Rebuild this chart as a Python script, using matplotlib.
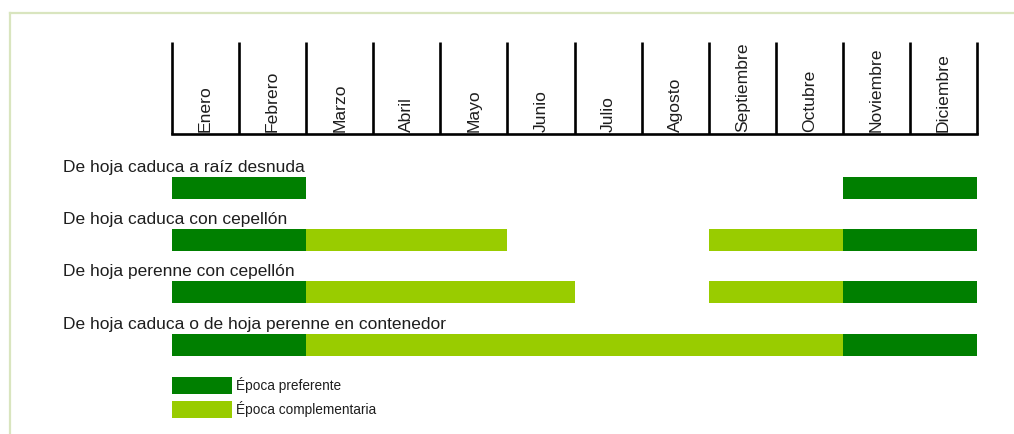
import matplotlib
matplotlib.use('agg')
import matplotlib.pyplot as plt
from matplotlib.patches import Patch
from matplotlib.lines import Line2D

plt.rcParams['font.family'] = ['Liberation Sans', 'DejaVu Sans']

months = ['Enero', 'Febrero', 'Marzo', 'Abril', 'Mayo', 'Junio', 'Julio',
          'Agosto', 'Septiembre', 'Octubre', 'Noviembre', 'Diciembre']
rows = ['De hoja caduca a raíz desnuda',
        'De hoja caduca con cepellón',
        'De hoja perenne con cepellón',
        'De hoja caduca o de hoja perenne en contenedor']
# (first month index, number of months) for each row
preferente = [[(0, 2), (10, 2)],
              [(0, 2), (10, 2)],
              [(0, 2), (10, 2)],
              [(0, 2), (10, 2)]]
complementaria = [[],
                  [(2, 3), (8, 2)],
                  [(2, 4), (8, 2)],
                  [(2, 8)]]

dark = '#007f00'
light = '#99cc00'
txt = '#1e1e1e'

W, H = 1014, 434
fig = plt.figure(figsize=(W / 100, H / 100), dpi=100)

# light frame around the page
fig.add_artist(Line2D([9.5 / W, 9.5 / W], [0, 1 - 13 / H], color='#d9e5bf', lw=1.6))
fig.add_artist(Line2D([9.5 / W, 1], [1 - 13 / H, 1 - 13 / H], color='#d9e5bf', lw=1.6))

x0, x1 = 172 / W, 977 / W

# month header
hx = fig.add_axes([x0, 1 - 134 / H, x1 - x0, 92 / H])
hx.set_xlim(0, 12)
hx.set_ylim(0, 1)
hx.vlines(range(13), 0, 1, color='black', lw=1.9, clip_on=False)
hx.axhline(0, color='black', lw=1.9, clip_on=False)
for i, m in enumerate(months):
    hx.text(i + 0.5, 0.02, m, rotation=90, ha='center', va='bottom',
            fontsize=12.6, color=txt)
hx.axis('off')

# bars
ax = fig.add_axes([x0, 1 - 370.7 / H, x1 - x0, 208.8 / H])
ax.set_xlim(0, 12)
ax.set_ylim(3.5, -0.5)
for i in range(len(rows)):
    for s, d in preferente[i]:
        ax.barh(i, d, left=s, height=0.42, color=dark, linewidth=0)
    for s, d in complementaria[i]:
        ax.barh(i, d, left=s, height=0.42, color=light, linewidth=0)
    ax.text(-0.1354, i - 0.25, rows[i], transform=ax.get_yaxis_transform(),
            ha='left', va='bottom', fontsize=12.5, color=txt)
ax.axis('off')

handles = [Patch(facecolor=dark, label='Época preferente'),
           Patch(facecolor=light, label='Época complementaria')]
fig.legend(handles=handles, loc='upper left', bbox_to_anchor=(x0, 1 - 377 / H),
           frameon=False, fontsize=9.8, handlelength=4.4, handleheight=1.55,
           handletextpad=0.3, labelspacing=0.5, borderpad=0, borderaxespad=0,
           labelcolor=txt)

fig.savefig('out.png', dpi=100, facecolor='white')
